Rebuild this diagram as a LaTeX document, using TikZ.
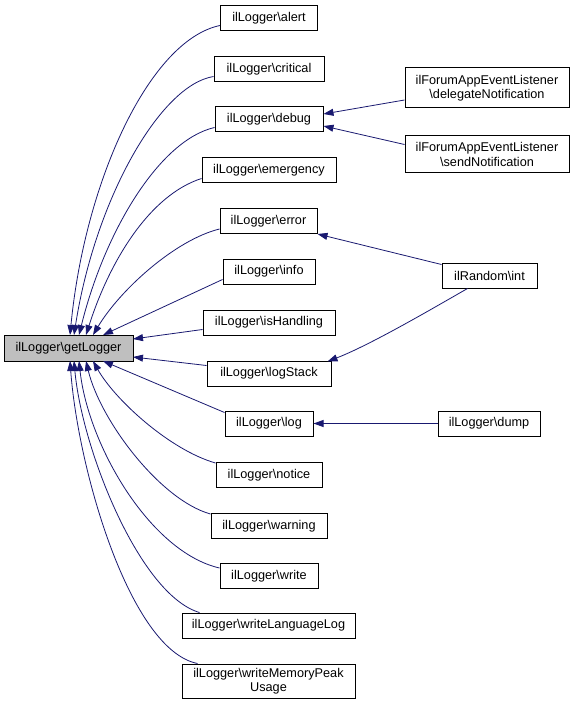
\documentclass[tikz,border=0pt]{standalone}
\usepackage{fontspec}
\setmainfont{Liberation Sans}
\usetikzlibrary{arrows.meta,calc}
\definecolor{edgeblue}{HTML}{191970}
\begin{document}
\begin{tikzpicture}[x=1pt,y=-1pt,
  fn/.style={draw=black,line width=1pt,fill=white,minimum height=25pt,inner sep=1pt,font=\fontsize{12.7}{14.5}\selectfont,align=center},
  cur/.style={fn,fill=black!25},
  edge/.style={draw=edgeblue,line width=0.8pt,-{Triangle[length=10pt,width=7pt]}}]
\useasboundingbox (0,0) rectangle (579,711);
\node[cur,minimum width=129pt,minimum height=26pt] (gl) at (68.5,348) {ilLogger\textbackslash getLogger};
\node[fn,minimum width=97pt] (alert) at (269,18.5) {ilLogger\textbackslash alert};
\node[fn,minimum width=110pt] (critical) at (269,69.5) {ilLogger\textbackslash critical};
\node[fn,minimum width=108pt] (debug) at (269,119.5) {ilLogger\textbackslash debug};
\node[fn,minimum width=134pt] (emergency) at (269,170.5) {ilLogger\textbackslash emergency};
\node[fn,minimum width=97pt] (error) at (268.5,221) {ilLogger\textbackslash error};
\node[fn,minimum width=92pt] (info) at (269,271.5) {ilLogger\textbackslash info};
\node[fn,minimum width=132pt] (ishandling) at (269,322.5) {ilLogger\textbackslash isHandling};
\node[fn,minimum width=124pt] (logstack) at (269,373.5) {ilLogger\textbackslash logStack};
\node[fn,minimum width=88pt] (log) at (269,423.5) {ilLogger\textbackslash log};
\node[fn,minimum width=106pt] (notice) at (269,475) {ilLogger\textbackslash notice};
\node[fn,minimum width=116pt] (warning) at (269,526) {ilLogger\textbackslash warning};
\node[fn,minimum width=98pt] (write) at (269,576) {ilLogger\textbackslash write};
\node[fn,minimum width=173pt] (wll) at (268.5,625.5) {ilLogger\textbackslash writeLanguageLog};
\node[fn,minimum width=173pt,minimum height=34pt,inner sep=0pt] (wmpu) at (268.5,681) {ilLogger\textbackslash writeMemoryPeak\\Usage};
\node[fn,minimum width=164pt,minimum height=40pt,inner sep=0pt] (deleg) at (487,88) {ilForumAppEventListener\\\textbackslash delegateNotification};
\node[fn,minimum width=164pt,minimum height=37pt,inner sep=0pt] (send) at (487,154.5) {ilForumAppEventListener\\\textbackslash sendNotification};
\node[fn,minimum width=95pt] (int) at (489.5,275.5) {ilRandom\textbackslash int};
\node[fn,minimum width=102pt] (dump) at (489,423.5) {ilLogger\textbackslash dump};

\coordinate (t1) at (70,335);
\coordinate (t2) at (74,335);
\coordinate (t3) at (79,335);
\coordinate (t4) at (86,335);
\coordinate (t5) at (93,335);
\coordinate (t6) at (103,335);
\coordinate (t7) at (133,339);
\coordinate (t8) at (133,357);
\coordinate (t9) at (103,361);
\coordinate (t10) at (93,361);
\coordinate (t11) at (86,361);
\coordinate (t12) at (79,361);
\coordinate (t13) at (74,361);
\coordinate (t14) at (70,361);

\path[edge] (alert.west) ++(0,7) .. controls (150,40) and (85,180) .. (t1);
\path[edge] (critical.west) ++(0,7) .. controls (160,85) and (95,200) .. (t2);
\path[edge] (debug.west) ++(0,8) .. controls (160,140) and (105,230) .. (t3);
\path[edge] (emergency.west) ++(0,8) .. controls (150,195) and (110,260) .. (t4);
\path[edge] (error.west) ++(0,8) .. controls (175,240) and (120,290) .. (t5);
\path[edge] (info.west) ++(0,8) -- (t6);
\path[edge] (ishandling.west) ++(0,7) -- (t7);
\path[edge] (logstack.west) ++(0,-8) -- (t8);
\path[edge] (log.west) ++(0,-11) -- (t9);
\path[edge] (notice.west) ++(0,-12) .. controls (170,450) and (115,400) .. (t10);
\path[edge] (warning.west) ++(0,-12) .. controls (160,500) and (100,420) .. (t11);
\path[edge] (write.west) ++(0,-8) .. controls (150,552) and (88,445) .. (t12);
\path[edge] (wll.north west) ++(18,0) .. controls (140,595) and (82,450) .. (t13);
\path[edge] (wmpu.north west) ++(16,0) .. controls (130,650) and (78,470) .. (t14);

\path[edge] (deleg.west) ++(0,12) -- (debug.east |- 0,114);
\path[edge] (send.west) ++(0,-10) -- (debug.east |- 0,126);
\path[edge] (int.north west) ++(0,2) -- (error.south east);
\path[edge] (int.south) ++(-22,0) .. controls (430,310) and (370,345) .. ($(logstack.north east)+(-4,1)$);
\path[edge] (dump) -- (log);
\end{tikzpicture}
\end{document}
